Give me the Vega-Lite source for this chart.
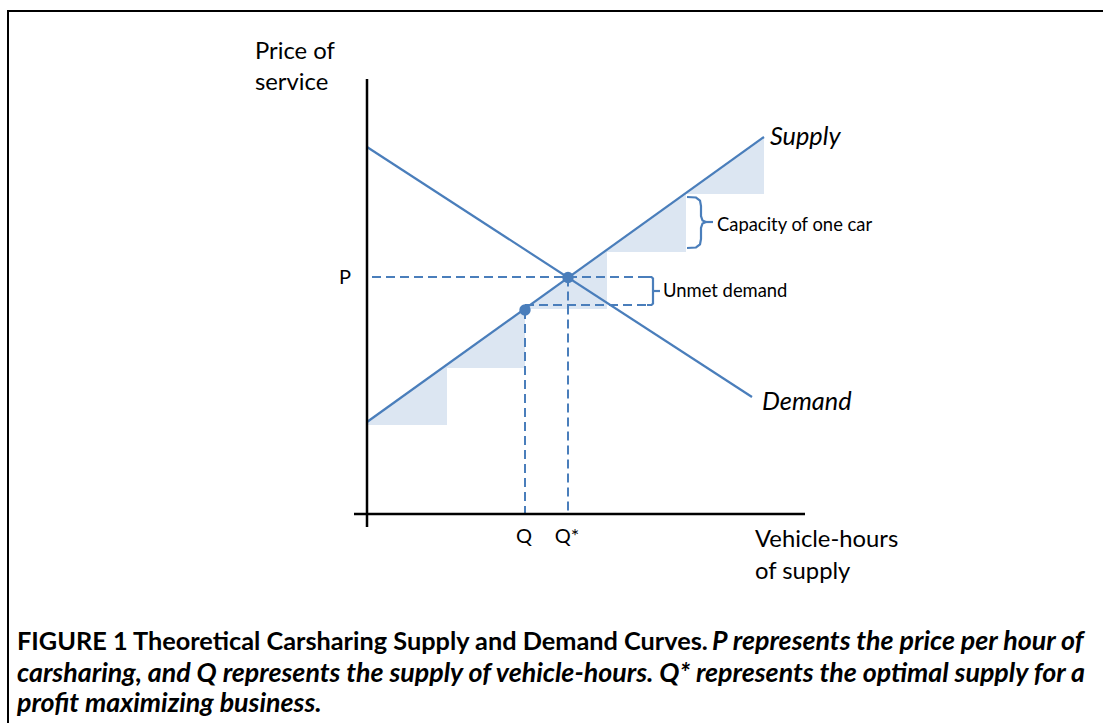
{
  "$schema": "https://vega.github.io/schema/vega-lite/v6.json",
  "width": 1103,
  "height": 723,
  "autosize": {"type": "none"},
  "padding": 0,
  "background": "white",
  "config": {"view": {"stroke": null}},
  "datasets": {
    "lines": [
      {"id": "demand", "i": 0, "x": 0, "y": 36.7},
      {"id": "demand", "i": 1, "x": 38.5, "y": 11.7},
      {"id": "supply", "i": 0, "x": 0, "y": 9.2},
      {"id": "supply", "i": 1, "x": 39.7, "y": 37.7},
      {"id": "yaxis", "i": 0, "x": 0, "y": 43.5},
      {"id": "yaxis", "i": 1, "x": 0, "y": -1.3},
      {"id": "xaxis", "i": 0, "x": -1.3, "y": 0},
      {"id": "xaxis", "i": 1, "x": 43.8, "y": 0},
      {"id": "pline", "i": 0, "x": 0.5, "y": 23.7},
      {"id": "pline", "i": 1, "x": 28.1, "y": 23.7},
      {"id": "qline", "i": 0, "x": 15.8, "y": 20.9},
      {"id": "qline", "i": 1, "x": 28.1, "y": 20.9},
      {"id": "qv", "i": 0, "x": 15.8, "y": 20.4},
      {"id": "qv", "i": 1, "x": 15.8, "y": 0},
      {"id": "qsv", "i": 0, "x": 20.1, "y": 23.65},
      {"id": "qsv", "i": 1, "x": 20.1, "y": 0},
      {"id": "unmet", "i": 0, "x": 28.0, "y": 23.7},
      {"id": "unmet", "i": 1, "x": 28.45, "y": 23.7},
      {"id": "unmet", "i": 2, "x": 28.6, "y": 23.55},
      {"id": "unmet", "i": 3, "x": 28.6, "y": 21.05},
      {"id": "unmet", "i": 4, "x": 28.45, "y": 20.9},
      {"id": "unmet", "i": 5, "x": 28.0, "y": 20.9},
      {"id": "unmetProng", "i": 0, "x": 28.6, "y": 22.3},
      {"id": "unmetProng", "i": 1, "x": 29.3, "y": 22.3},
      {"id": "cap", "i": 0, "x": 32.0, "y": 31.7},
      {"id": "cap", "i": 1, "x": 32.9, "y": 31.65},
      {"id": "cap", "i": 2, "x": 33.3, "y": 31.35},
      {"id": "cap", "i": 3, "x": 33.4, "y": 30.8},
      {"id": "cap", "i": 4, "x": 33.4, "y": 29.8},
      {"id": "cap", "i": 5, "x": 33.55, "y": 29.35},
      {"id": "cap", "i": 6, "x": 33.9, "y": 29.2},
      {"id": "cap", "i": 7, "x": 33.55, "y": 29.05},
      {"id": "cap", "i": 8, "x": 33.4, "y": 28.6},
      {"id": "cap", "i": 9, "x": 33.4, "y": 27.5},
      {"id": "cap", "i": 10, "x": 33.3, "y": 26.95},
      {"id": "cap", "i": 11, "x": 32.9, "y": 26.65},
      {"id": "cap", "i": 12, "x": 32.0, "y": 26.6},
      {"id": "capProng", "i": 0, "x": 33.9, "y": 29.2},
      {"id": "capProng", "i": 1, "x": 34.6, "y": 29.2}
    ],
    "steps": [
      {"s": 1, "x": 0, "top": 9.2, "bot": 8.9},
      {"s": 1, "x": 8.0, "top": 14.94, "bot": 8.9},
      {"s": 2, "x": 8.0, "top": 14.94, "bot": 14.6},
      {"s": 2, "x": 15.8, "top": 20.54, "bot": 14.6},
      {"s": 3, "x": 15.8, "top": 20.54, "bot": 20.5},
      {"s": 3, "x": 24.0, "top": 26.43, "bot": 20.5},
      {"s": 4, "x": 24.0, "top": 26.43, "bot": 26.2},
      {"s": 4, "x": 31.9, "top": 32.1, "bot": 26.2},
      {"s": 5, "x": 31.9, "top": 32.1, "bot": 32.0},
      {"s": 5, "x": 39.7, "top": 37.7, "bot": 32.0}
    ],
    "pts": [
      {"name": "Q*", "x": 20.1, "y": 23.65},
      {"name": "Q", "x": 15.8, "y": 20.4}
    ],
    "frame": [
      {"x": -35.9, "x2": 80, "y": 50.3, "y2": -30}
    ],
    "labels": [
      {"g": "title", "t": "Price of", "x": -11.2, "y": 46.2},
      {"g": "title", "t": "service", "x": -11.2, "y": 43.1},
      {"g": "title", "t": "Vehicle-hours", "x": 38.8, "y": -2.6},
      {"g": "title", "t": "of supply", "x": 38.8, "y": -5.8},
      {"g": "tick", "t": "P", "x": -2.2, "y": 23.6},
      {"g": "tick", "t": "Q", "x": 15.7, "y": -2.3},
      {"g": "tick", "t": "Q*", "x": 20.0, "y": -2.3},
      {"g": "curve", "t": "Supply", "x": 40.3, "y": 37.7},
      {"g": "curve", "t": "Demand", "x": 39.5, "y": 11.2},
      {"g": "note", "t": "Capacity of one car", "x": 35.0, "y": 28.9},
      {"g": "note", "t": "Unmet demand", "x": 29.6, "y": 22.3},
      {"g": "capB", "t": "FIGURE 1 Theoretical Carsharing Supply and Demand Curves.", "x": -35.0, "y": -12.8},
      {"g": "capI", "t": "P represents the price per hour of", "x": 34.5, "y": -12.8},
      {"g": "capI", "t": "carsharing, and Q represents the supply of vehicle-hours. Q* represents the optimal supply for a", "x": -35.0, "y": -16.0},
      {"g": "capI", "t": "profit maximizing business.", "x": -35.0, "y": -19.0}
    ]
  },
  "encoding": {
    "x": {"field": "x", "type": "quantitative", "scale": {"domain": [-36.7, 73.6], "nice": false, "zero": false}, "axis": null},
    "y": {"field": "y", "type": "quantitative", "scale": {"domain": [-20.9, 51.4], "nice": false, "zero": false}, "axis": null}
  },
  "layer": [
    {
      "data": {"name": "frame"},
      "mark": {"type": "rect", "fill": null, "stroke": "#000000", "strokeWidth": 2, "clip": true},
      "encoding": {"x2": {"field": "x2"}, "y2": {"field": "y2"}}
    },
    {
      "data": {"name": "steps"},
      "mark": {"type": "area", "color": "#dce6f2", "opacity": 1},
      "encoding": {
        "y": {"field": "top", "type": "quantitative"},
        "y2": {"field": "bot"},
        "detail": {"field": "s", "type": "nominal"}
      }
    },
    {
      "data": {"name": "lines"},
      "transform": [{"filter": {"field": "id", "oneOf": ["pline", "qline", "qv", "qsv"]}}],
      "mark": {"type": "line", "color": "#4a7ebb", "strokeWidth": 2, "strokeDash": [9, 5]},
      "encoding": {"detail": {"field": "id", "type": "nominal"}, "order": {"field": "i", "type": "quantitative"}}
    },
    {
      "data": {"name": "lines"},
      "transform": [{"filter": {"field": "id", "oneOf": ["demand", "supply", "unmet", "unmetProng", "cap", "capProng"]}}],
      "mark": {"type": "line", "color": "#4a7ebb", "strokeWidth": 2.2},
      "encoding": {"detail": {"field": "id", "type": "nominal"}, "order": {"field": "i", "type": "quantitative"}}
    },
    {
      "data": {"name": "lines"},
      "transform": [{"filter": {"field": "id", "oneOf": ["xaxis", "yaxis"]}}],
      "mark": {"type": "line", "color": "#000000", "strokeWidth": 2.5},
      "encoding": {"detail": {"field": "id", "type": "nominal"}, "order": {"field": "i", "type": "quantitative"}}
    },
    {
      "data": {"name": "pts"},
      "mark": {"type": "point", "filled": true, "color": "#4a7ebb", "size": 130, "opacity": 1}
    },
    {
      "data": {"name": "labels"},
      "transform": [{"filter": {"field": "g", "equal": "title"}}],
      "mark": {"type": "text", "font": "Lato", "fontSize": 23.8, "align": "left", "baseline": "middle", "color": "#000000"},
      "encoding": {"text": {"field": "t"}}
    },
    {
      "data": {"name": "labels"},
      "transform": [{"filter": {"field": "g", "equal": "tick"}}],
      "mark": {"type": "text", "font": "Lato", "fontSize": 20, "align": "center", "baseline": "middle", "color": "#000000"},
      "encoding": {"text": {"field": "t"}}
    },
    {
      "data": {"name": "labels"},
      "transform": [{"filter": {"field": "g", "equal": "curve"}}],
      "mark": {"type": "text", "font": "Lato", "fontSize": 25.3, "fontStyle": "italic", "align": "left", "baseline": "middle", "color": "#000000"},
      "encoding": {"text": {"field": "t"}}
    },
    {
      "data": {"name": "labels"},
      "transform": [{"filter": {"field": "g", "equal": "note"}}],
      "mark": {"type": "text", "font": "Lato", "fontSize": 18.4, "align": "left", "baseline": "middle", "color": "#000000"},
      "encoding": {"text": {"field": "t"}}
    },
    {
      "data": {"name": "labels"},
      "transform": [{"filter": {"field": "g", "equal": "capB"}}],
      "mark": {"type": "text", "font": "Lato", "fontSize": 25.3, "fontWeight": "bold", "align": "left", "baseline": "middle", "color": "#000000"},
      "encoding": {"text": {"field": "t"}}
    },
    {
      "data": {"name": "labels"},
      "transform": [{"filter": {"field": "g", "equal": "capI"}}],
      "mark": {"type": "text", "font": "Lato", "fontSize": 26.8, "fontWeight": "bold", "fontStyle": "italic", "align": "left", "baseline": "middle", "color": "#000000"},
      "encoding": {"text": {"field": "t"}}
    }
  ]
}
